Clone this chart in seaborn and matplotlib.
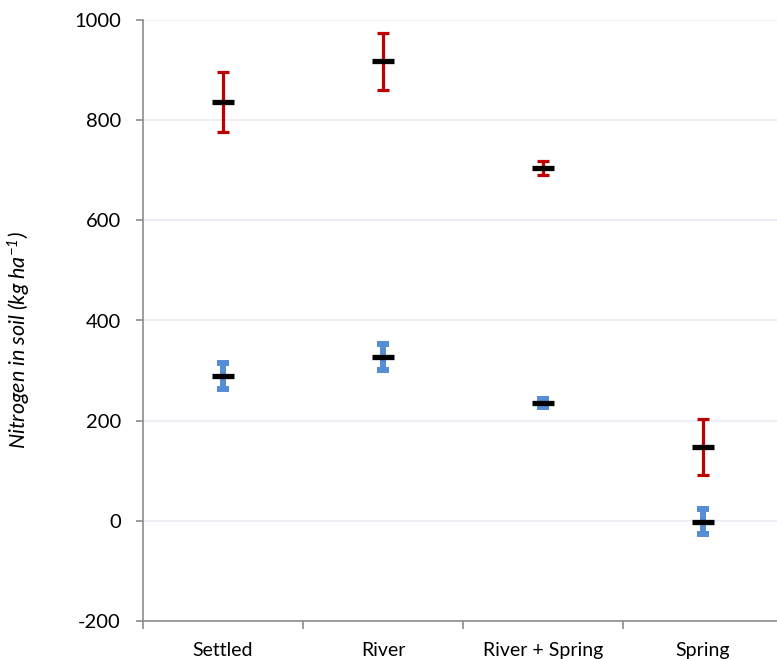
import matplotlib
matplotlib.use("Agg")
import matplotlib.pyplot as plt
import seaborn as sns
import pandas as pd
import numpy as np

categories = ["Settled", "River", "River + Spring", "Spring"]
red_mean = [836, 918, 705, 148]
red_err = [60, 57, 14, 56]
blue_mean = [290, 327, 236, -2]
blue_err = [26, 26, 8, 25]
yticks = [-200, 0, 200, 400, 600, 800, 1000]

sns.set_theme(style="white")
plt.rcParams['font.family'] = ['Lato', 'DejaVu Sans']
plt.rcParams['mathtext.fontset'] = 'custom'
plt.rcParams['mathtext.it'] = 'Lato:italic'
plt.rcParams['mathtext.rm'] = 'Lato:italic'

fig = plt.figure(figsize=(7.77, 6.59), dpi=100)
ax = fig.add_axes([143/777, 38/659, 640/777, 601/659])

x = np.arange(len(categories))
df = pd.DataFrame({"cat": categories, "x": x, "red": red_mean, "blue": blue_mean})

ax.errorbar(x, red_mean, yerr=red_err, fmt='none', ecolor='#C00000',
            elinewidth=2.3, capsize=4.6, capthick=2.3, zorder=3)
ax.errorbar(x, blue_mean, yerr=blue_err, fmt='none', ecolor='#558ED5',
            elinewidth=4.3, capsize=4.6, capthick=4.3, zorder=3)

long = pd.concat([df[["x", "red"]].rename(columns={"red": "v"}),
                  df[["x", "blue"]].rename(columns={"blue": "v"})])
sns.scatterplot(data=long, x="x", y="v", marker="_", s=260, linewidth=3.8,
                color="black", ax=ax, zorder=4, legend=False)

ax.set_xlim(-0.5, 3.5)
ax.set_ylim(-200, 1000)
ax.set_yticks(yticks)
ax.set_yticklabels([str(t) for t in yticks], fontsize=14.5, color='black')
ax.set_xticks(np.arange(-0.5, 4.0, 1.0))
ax.set_xticklabels([])
ax.set_xticks(x, minor=True)
ax.set_xticklabels(categories, minor=True, fontsize=14, color='black')
ax.tick_params(axis='x', which='major', direction='out', length=6, width=1.2, color='#8C8C8C', bottom=True)
ax.tick_params(axis='x', which='minor', length=0, pad=15)
ax.tick_params(axis='y', direction='out', length=5, width=1.2, color='#8C8C8C', left=True, pad=11)

ax.yaxis.grid(True, color='#E9ECF3', linewidth=1.2)
ax.xaxis.grid(False)
ax.set_axisbelow(True)
for s in ['top', 'right']:
    ax.spines[s].set_visible(False)
for s in ['left', 'bottom']:
    ax.spines[s].set_color('#8C8C8C')
    ax.spines[s].set_linewidth(1.2)

ax.set_xlabel("")
ax.set_ylabel(r"Nitrogen in soil (kg ha$^{-1}$)", fontsize=15.5, style='italic', color='black')
ax.yaxis.set_label_coords(-0.172, 0.468)

fig.savefig("out.png", dpi=100)
